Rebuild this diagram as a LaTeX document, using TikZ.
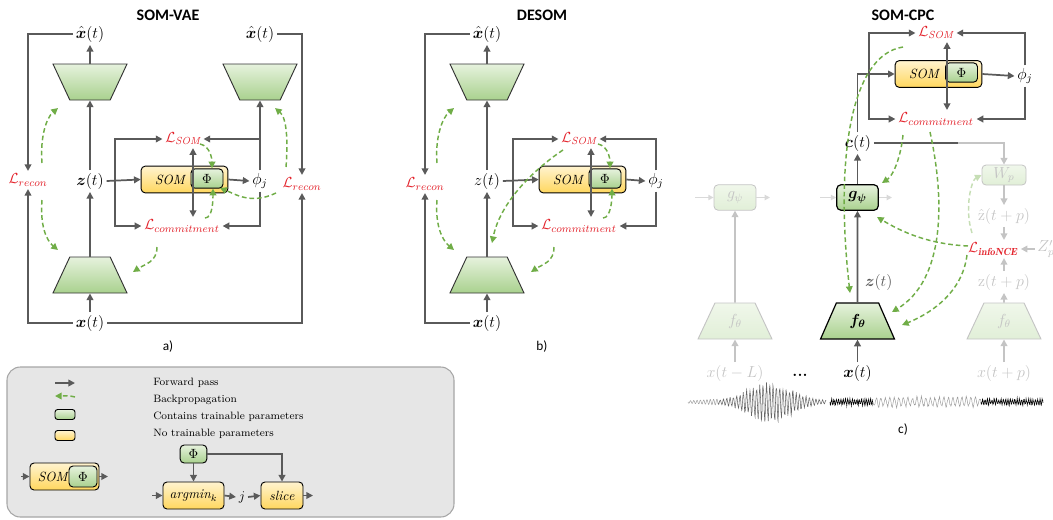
\documentclass[tikz,border=0pt]{standalone}
\usepackage{fontspec}
\usepackage{amsmath}
\usepackage{bm}
\setsansfont{Carlito}
\usetikzlibrary{arrows.meta, positioning, shapes.geometric, calc}
\definecolor{slategrey}{HTML}{5A5A5A}
\definecolor{leafpale}{HTML}{E6F2DD}
\definecolor{leafmid}{HTML}{A9D18E}
\definecolor{leafdark}{HTML}{70AD47}
\definecolor{sandpale}{HTML}{FFF3CF}
\definecolor{sandmid}{HTML}{FFD75E}
\definecolor{signalred}{HTML}{E3232C}
\definecolor{paneltint}{HTML}{E6E6E6}
\definecolor{mistgrey}{HTML}{C4C4C4}
\colorlet{colFlow}{slategrey}
\colorlet{colTrainTop}{leafpale}
\colorlet{colTrainBot}{leafmid}
\colorlet{colFixedTop}{sandpale}
\colorlet{colFixedBot}{sandmid}
\colorlet{colBack}{leafdark}
\colorlet{colLoss}{signalred}
\colorlet{colFaded}{mistgrey}
\colorlet{colLegend}{paneltint}
\tikzset{
  boxBase/.style={
    draw=black, line width=0.7pt, rounded corners=3pt,
    inner sep=0pt, align=center, font=\fontsize{10}{12}\selectfont
  },
  boxTrain/.style={boxBase, top color=colTrainTop, bottom color=colTrainBot},
  boxFixed/.style={boxBase, top color=colFixedTop, bottom color=colFixedBot},
  boxFaded/.style={boxBase, draw=colFaded, line width=0.6pt,
    top color=colTrainTop!60, bottom color=colTrainBot!35, text=colFaded},
  somBox/.style={boxFixed, minimum width=65pt, minimum height=20pt,
    text width=44pt, align=left},
  phiBox/.style={boxTrain, minimum width=24pt, minimum height=14.5pt},
  netBase/.style={
    trapezium, trapezium angle=67.4, trapezium stretches=true,
    minimum width=55.5pt, minimum height=27pt, inner sep=2pt,
    draw=black!80, line width=0.7pt,
    top color=colTrainTop, bottom color=colTrainBot,
    font=\fontsize{12}{14}\selectfont
  },
  netEnc/.style={netBase},
  netDec/.style={netBase, shape border rotate=180},
  netFaded/.style={netBase, draw=colFaded, text=colFaded,
    top color=colTrainTop!60, bottom color=colTrainBot!35},
  varLabel/.style={inner sep=2pt, font=\fontsize{12}{14}\selectfont},
  varFaded/.style={varLabel, text=colFaded},
  lossLabel/.style={inner sep=2pt, text=colLoss, font=\fontsize{11}{13}\selectfont},
  panelTitle/.style={font=\sffamily\bfseries\fontsize{12}{14}\selectfont},
  panelTag/.style={font=\sffamily\fontsize{10}{12}\selectfont},
  legendText/.style={anchor=west, inner sep=0pt, font=\fontsize{8}{10}\selectfont},
  legendFrame/.style={draw=black!35, line width=0.8pt, fill=colLegend, rounded corners=10pt},
  flow/.style={-{Triangle[length=5pt,width=5pt]}, line width=1.3pt, colFlow},
  flowLine/.style={line width=1.3pt, colFlow},
  flowFaded/.style={flow, colFaded},
  flowGhost/.style={-{Triangle[length=4pt,width=4pt]}, line width=0.9pt, black!15},
  backprop/.style={-{Triangle[length=5pt,width=5pt]}, line width=1.1pt,
    dash pattern=on 3.5pt off 2.2pt, colBack},
  backpropFaded/.style={backprop, colBack!40},
  waveLight/.style={line width=0.35pt, black!40},
  waveBurst/.style={line width=0.4pt, black!60},
  waveDark/.style={line width=0.45pt, black},
}

\begin{document}
\begin{tikzpicture}[x=0.75pt, y=-0.75pt]
  \useasboundingbox (0,0) rectangle (1053,519);

  % ---------------- SOM-VAE ----------------
  \node[panelTitle] (titleVae) at (168,15) {SOM-VAE};
  \node[varLabel] (xhatVae) at (90,34) {$\hat{\bm{x}}(t)$};
  \node[netDec] (decVae) at (90,82) {};
  \node[varLabel] (zVae) at (90,181) {$\bm{z}(t)$};
  \node[netEnc] (encVae) at (90,275) {};
  \node[varLabel] (xVae) at (90,323) {$\bm{x}(t)$};
  \node[varLabel] (xhatVaeB) at (260,34) {$\hat{\bm{x}}(t)$};
  \node[netDec] (decVaeB) at (260,82) {};
  \node[lossLabel] (recVae) at (28,180) {$\mathcal{L}_{recon}$};
  \node[lossLabel] (recVaeB) at (302,184) {$\mathcal{L}_{recon}$};
  \node[somBox] (somVae) at (184.5,179.5) {$\mathit{SOM}$};
  \node[phiBox] (phiVae) at (207,178.5) {$\Phi$};
  \node[lossLabel] (lsomVae) at (183,139) {$\mathcal{L}_{\mathit{SOM}}$};
  \node[lossLabel] (lcomVae) at (182,226) {$\mathcal{L}_{commitment}$};
  \node[varLabel] (phjVae) at (260,181) {$\phi_j$};
  \node[panelTag] (tagVae) at (168,347) {a)};
  \coordinate (splitVae) at (115,179.5);
  \coordinate (vertVae) at (193,179.5);

  \draw[flow] (decVae) -- (xhatVae);
  \draw[flow] (zVae) -- (decVae);
  \draw[flow] (encVae) -- (zVae);
  \draw[flow] (xVae) -- (encVae);
  \draw[flow] (xhatVae.west) -| (recVae.north);
  \draw[flow] (xVae.west) -| (recVae.south);
  \draw[flow] (xhatVaeB.east) -| (recVaeB.north);
  \draw[flow] (xVae.east) -| (recVaeB.south);
  \draw[flow] (zVae.east) -- (somVae.west);
  \draw[flow] (splitVae) |- (lsomVae.west);
  \draw[flow] (splitVae) |- (lcomVae.west);
  \draw[flow] (somVae.east) -- (phjVae.west);
  \draw[flow] (phjVae) -- (decVaeB);
  \draw[flow] (phjVae.north |- lsomVae) -- (lsomVae.east);
  \draw[flow] (phjVae.south) |- (lcomVae.east);
  \draw[flow] (vertVae) -- (vertVae |- lsomVae.south);
  \draw[flow] (vertVae) -- (vertVae |- lcomVae.north);

  \draw[backprop] ([shift={(14,-17)}]recVae.center) .. controls +(-2,-25) and +(-12,10) .. ([shift={(-32,26)}]decVae.center);
  \draw[backprop] ([shift={(14,20)}]recVae.center) .. controls +(-2,25) and +(-12,-10) .. ([shift={(-32,-25)}]encVae.center);
  \draw[backprop] ([shift={(-16,-17)}]recVaeB.center) .. controls +(2,-25) and +(12,10) .. ([shift={(15,26)}]decVaeB.center);
  \draw[backprop] ([shift={(-26,9)}]recVaeB.center) .. controls +(-25,12) and +(15,6) .. ([shift={(13,9.5)}]phiVae.center);
  \draw[backprop] ([shift={(17,5)}]lsomVae.center) .. controls +(10,2) and +(0,-10) .. ([shift={(5,0)}]phiVae.north);
  \draw[backprop] ([shift={(23,-8)}]lcomVae.center) .. controls +(8,0) and +(0,10) .. ([shift={(6,0)}]phiVae.south);
  \draw[backprop] ([shift={(-25,21)}]lcomVae.center) .. controls +(0,15) and +(12,-8) .. ([shift={(43,-3)}]encVae.center);

  % ---------------- DESOM ----------------
  \node[panelTitle] (titleDes) at (542,15) {DESOM};
  \node[varLabel] (xhatDes) at (487,34) {$\hat{\bm{x}}(t)$};
  \node[netDec] (decDes) at (487,82) {};
  \node[varLabel] (zDes) at (487,181) {$z(t)$};
  \node[netEnc] (encDes) at (487,275) {};
  \node[varLabel] (xDes) at (487,323) {$\bm{x}(t)$};
  \node[lossLabel] (recDes) at (425,184) {$\mathcal{L}_{recon}$};
  \node[somBox] (somDes) at (582.5,179.5) {$\mathit{SOM}$};
  \node[phiBox] (phiDes) at (605,178.5) {$\Phi$};
  \node[lossLabel] (lsomDes) at (579,139) {$\mathcal{L}_{\mathit{SOM}}$};
  \node[lossLabel] (lcomDes) at (579,226) {$\mathcal{L}_{commitment}$};
  \node[varLabel] (phjDes) at (656,181) {$\phi_j$};
  \node[panelTag] (tagDes) at (542,347) {b)};
  \coordinate (splitDes) at (513,179.5);
  \coordinate (vertDes) at (591,179.5);

  \draw[flow] (decDes) -- (xhatDes);
  \draw[flow] (zDes) -- (decDes);
  \draw[flow] (encDes) -- (zDes);
  \draw[flow] (xDes) -- (encDes);
  \draw[flow] (xhatDes.west) -| (recDes.north);
  \draw[flow] (xDes.west) -| (recDes.south);
  \draw[flow] (zDes.east) -- (somDes.west);
  \draw[flow] (splitDes) |- (lsomDes.west);
  \draw[flow] (splitDes) |- (lcomDes.west);
  \draw[flow] (somDes.east) -- (phjDes.west);
  \draw[flow] (phjDes.north) |- (lsomDes.east);
  \draw[flow] (phjDes.south) |- (lcomDes.east);
  \draw[flow] (vertDes) -- (vertDes |- lsomDes.south);
  \draw[flow] (vertDes) -- (vertDes |- lcomDes.north);

  \draw[backprop] ([shift={(12,-21)}]recDes.center) .. controls +(-2,-25) and +(-12,10) .. ([shift={(-33,26)}]decDes.center);
  \draw[backprop] ([shift={(12,16)}]recDes.center) .. controls +(-2,25) and +(-12,-10) .. ([shift={(-33,-25)}]encDes.center);
  \draw[backprop] ([shift={(-16,11)}]lsomDes.center) .. controls +(-30,20) and +(8,-40) .. ([shift={(5,-32)}]encDes.center);
  \draw[backprop] ([shift={(19,5)}]lsomDes.center) .. controls +(10,2) and +(0,-10) .. ([shift={(5,0)}]phiDes.north);
  \draw[backprop] ([shift={(24,-8)}]lcomDes.center) .. controls +(8,0) and +(0,10) .. ([shift={(7,0)}]phiDes.south);
  \draw[backprop] ([shift={(-25,21)}]lcomDes.center) .. controls +(0,15) and +(12,-8) .. ([shift={(44,-3)}]encDes.center);

  % ---------------- SOM-CPC ----------------
  \node[panelTitle] (titleCpc) at (903,15) {SOM-CPC};
  \node[lossLabel] (lsomCpc) at (936,33) {$\mathcal{L}_{\mathit{SOM}}$};
  \node[somBox] (somCpc) at (938.5,74) {$\mathit{SOM}$};
  \node[phiBox] (phiCpc) at (961.5,72.5) {$\Phi$};
  \node[lossLabel] (lcomCpc) at (936,119) {$\mathcal{L}_{commitment}$};
  \node[varLabel] (phjCpc) at (1025,76) {$\phi_j$};
  \coordinate (splitCpc) at (869,74);
  \coordinate (vertCpc) at (947,74);
  \node[varLabel] (cCpc) at (858,143) {$\bm{c}(t)$};
  \node[boxTrain, minimum width=31pt, minimum height=19pt, line width=0.9pt,
        font=\fontsize{12}{14}\selectfont] (gCpc) at (857.5,197.5) {$\bm{g_\psi}$};
  \node[netEnc, draw=black, line width=0.9pt] (fCpc) at (857.5,321) {$\bm{f_\theta}$};
  \node[varLabel] (xCpc) at (857.5,373) {$\bm{x}(t)$};
  \node[varLabel] (dotsCpc) at (800,375) {\textbf{...}};
  \node[boxFaded, minimum width=31.5pt, minimum height=19pt,
        font=\fontsize{12}{14}\selectfont] (gLeft) at (735,197.5) {$g_\psi$};
  \node[netFaded] (fLeft) at (735,321) {$f_\theta$};
  \node[varFaded] (xLeft) at (735,373) {$x(t-L)$};
  \node[boxFaded, minimum width=33pt, minimum height=15pt,
        font=\fontsize{12}{14}\selectfont] (wCpc) at (1004,175) {$W_p$};
  \node[varFaded] (zhatCpc) at (1004,216) {$\hat{\mathrm{z}}(t+p)$};
  \node[lossLabel] (lnceCpc) at (993,249) {$\mathcal{L}_{\bm{\mathit{infoNCE}}}$};
  \node[varFaded] (zNeg) at (1046,249) {$Z'_p$};
  \node[varFaded] (zFut) at (1004,282) {$\mathrm{z}(t+p)$};
  \node[netFaded] (fRight) at (1004,321) {$f_\theta$};
  \node[varFaded] (xRight) at (1004,373) {$x(t+p)$};
  \node[panelTag] (tagCpc) at (903,430) {c)};
  \coordinate (turnCpc) at (958,143);
  \coordinate (inLeft) at (695,197.5);
  \coordinate (outLeft) at (770,197.5);
  \coordinate (inMain) at (820,197.5);
  \coordinate (outMain) at (892,197.5);

  \draw[flow] (cCpc.north -| gCpc) |- (somCpc.west);
  \draw[flow] (splitCpc) |- (lsomCpc.west);
  \draw[flow] (splitCpc) |- (lcomCpc.west);
  \draw[flow] (somCpc.east) -- (phjCpc.west);
  \draw[flow] (phjCpc.north) |- (lsomCpc.east);
  \draw[flow] (phjCpc.south) |- (lcomCpc.east);
  \draw[flow] (vertCpc) -- (vertCpc |- lsomCpc.south);
  \draw[flow] (vertCpc) -- (vertCpc |- lcomCpc.north);
  \draw[flowLine] (cCpc.east) -- (turnCpc);
  \draw[flowFaded] (turnCpc) -| (wCpc.north);
  \draw[flow] (gCpc) -- (gCpc |- cCpc.south);
  \draw[flow] (fCpc) -- (gCpc) node[varLabel, pos=0.22, right=3pt] (zCpc) {$\bm{z}(t)$};
  \draw[flow] (xCpc) -- (fCpc);
  \draw[flowGhost] (inMain) -- (gCpc.west);
  \draw[flowGhost] (gCpc.east) -- (outMain);
  \draw[flowGhost] (inLeft) -- (gLeft.west);
  \draw[flowGhost] (gLeft.east) -- (outLeft);
  \draw[flowFaded] (fLeft) -- (gLeft);
  \draw[flowFaded] (xLeft) -- (fLeft);
  \draw[flowFaded] (wCpc) -- (zhatCpc);
  \draw[flowFaded] (zhatCpc) -- (zhatCpc |- lnceCpc.north);
  \draw[flowFaded] (zFut) -- (zFut |- lnceCpc.south);
  \draw[flowFaded] (zNeg.west) -- (lnceCpc.east);
  \draw[flowFaded] (fRight) -- (zFut);
  \draw[flowFaded] (xRight) -- (fRight);

  \draw[backprop] ([shift={(-33,14)}]lsomCpc.center) .. controls +(-53,8) and +(-15,-133) .. ([shift={(-7.5,-28)}]fCpc.center);
  \draw[backprop] ([shift={(-33,16)}]lcomCpc.center) .. controls +(-2,20) and +(12,-8) .. ([shift={(24.5,-14.5)}]gCpc.center);
  \draw[backprop] ([shift={(-6,13)}]lcomCpc.center) .. controls +(15,68) and +(53,-32) .. ([shift={(34.5,-9)}]fCpc.center);
  \draw[backprop] ([shift={(-25,-3)}]lnceCpc.center) .. controls +(-40,-2) and +(25,15) .. ([shift={(19.5,19.5)}]gCpc.center);
  \draw[backprop] ([shift={(-26,6)}]lnceCpc.center) .. controls +(-5,40) and +(25,-10) .. ([shift={(44.5,4)}]fCpc.center);
  \draw[backpropFaded] ([shift={(-21,-16)}]lnceCpc.center) .. controls +(-8,-25) and +(-10,5) .. (wCpc.west);

  % waveform
  \pgfmathsetseed{7}
  \draw[waveLight] plot[domain=0:30, samples=90]
    ({688+\x}, {402+(1.2+0.06*\x)*sin(\x*109)});
  \draw[waveBurst] plot[domain=30:138, samples=420]
    ({688+\x}, {402+(1.4+20*exp(-((\x-82)/30)^2))*(0.6+0.4*rnd)*sin(\x*109)});
  \draw[waveDark] plot[domain=0:43, samples=150]
    ({830+\x}, {402+(1+3*rnd)*sin(\x*157)});
  \draw[waveLight] plot[domain=0:108, samples=220]
    ({873+\x}, {402+(2.5+3.5*rnd)*sin(\x*80)});
  \draw[waveDark] plot[domain=0:62, samples=210]
    ({981+\x}, {402+(1+3*rnd)*sin(\x*157)});

  % ---------------- legend ----------------
  \draw[legendFrame] (7,367) rectangle (454,517);
  \coordinate (fwdStart) at (55,383);
  \coordinate (fwdEnd) at (75,383);
  \coordinate (bpStart) at (75,397);
  \coordinate (bpEnd) at (55,396);
  \draw[flow] (fwdStart) -- (fwdEnd);
  \draw[backprop] (bpStart) .. controls +(-6,-2) and +(6,0) .. (bpEnd);
  \node[boxTrain, minimum width=15pt, minimum height=7.5pt, rounded corners=2pt] (swatchTrain) at (65,414.5) {};
  \node[boxFixed, minimum width=15pt, minimum height=7.5pt, rounded corners=2pt] (swatchFixed) at (65,435.5) {};
  \node[legendText] (txtFwd) at (153,383) {Forward pass};
  \node[legendText] (txtBack) at (153,400) {Backpropagation};
  \node[legendText] (txtTrain) at (153,417) {Contains trainable parameters};
  \node[legendText] (txtFixed) at (153,434) {No trainable parameters};

  \node[boxFixed, minimum width=51.75pt, minimum height=20.25pt, text width=40pt, align=left] (somLeg) at (64.5,476.5) {$\mathit{SOM}$};
  \node[boxTrain, minimum width=21pt, minimum height=15.75pt] (phiLeg) at (83,476.5) {$\Phi$};
  \coordinate (inSom) at (21,476.5);
  \coordinate (outSom) at (108,476.5);
  \draw[flow] (inSom) -- (somLeg.west);
  \draw[flow] (somLeg.east) -- (outSom);

  \node[boxTrain, minimum width=20pt, minimum height=13.5pt] (phiArg) at (193.5,454) {$\Phi$};
  \node[boxFixed, minimum width=45.75pt, minimum height=20.25pt] (argBox) at (193.5,495.5) {$\mathit{argmin}_k$};
  \node[varLabel, font=\fontsize{10}{12}\selectfont] (jLeg) at (242,497) {$j$};
  \node[boxFixed, minimum width=31.5pt, minimum height=20.25pt] (sliceBox) at (282,495.5) {$\mathit{slice}$};
  \coordinate (inArg) at (152,495.5);
  \coordinate (outSlice) at (313,495.5);
  \draw[flow] (inArg) -- (argBox.west);
  \draw[flow] (argBox.east) -- (jLeg.west);
  \draw[flow] (jLeg.east) -- (sliceBox.west);
  \draw[flow] (sliceBox.east) -- (outSlice);
  \draw[flow] (phiArg) -- (argBox);
  \draw[flow] (phiArg.east) -| (sliceBox.north);
\end{tikzpicture}
\end{document}
